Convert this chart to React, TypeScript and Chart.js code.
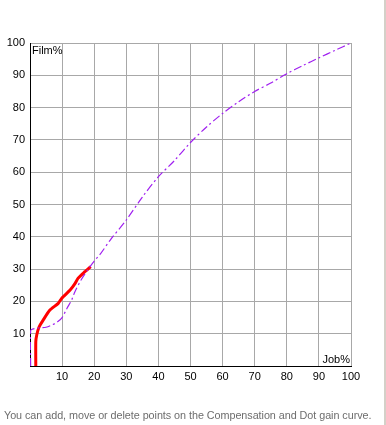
import React, { useEffect, useRef } from "react";
import { Chart, registerables } from "chart.js";

Chart.register(...registerables);

const xTicks = [0, 10, 20, 30, 40, 50, 60, 70, 80, 90, 100];

const compX = [0.2, 0.2, 1, 3, 5, 7, 8.5, 10, 11.5, 13, 14, 16, 18, 20, 22, 25, 30, 35, 40, 45, 50, 55, 60, 65, 70, 75, 80, 85, 90, 95, 100];
const compY = [0, 11, 11.5, 11.8, 12, 12.8, 13.6, 15, 17.8, 20.5, 23, 26.8, 29.8, 32.5, 34.8, 39, 45.2, 52.3, 58.6, 63.6, 69.2, 74, 78.2, 81.8, 85, 87.6, 90.5, 93, 95.4, 97.7, 100];

const gainX = [1.8, 1.8, 2.1, 2.8, 4.1, 6.2, 8.8, 9.9, 12.5, 14, 15, 17.1, 18.9];
const gainY = [0, 7.5, 9.6, 12, 14.2, 17.3, 19.4, 21, 23.5, 25.5, 27.2, 29.2, 30.8];

const yAxisTitle = "Film%";
const xAxisTitle = "Job%";
const footnote = "You can add, move or delete points on the Compensation and Dot gain curve.";

const FONT = "'Liberation Sans', Arial, sans-serif";

const cornerLabels = {
  id: "cornerLabels",
  afterDraw(chart: any) {
    const { ctx, chartArea } = chart;
    ctx.save();
    ctx.font = `11px ${FONT}`;
    ctx.fillStyle = "#000";
    ctx.textBaseline = "top";
    ctx.textAlign = "left";
    ctx.fillText(yAxisTitle, chartArea.left + 2, chartArea.top + 2);
    ctx.textAlign = "right";
    ctx.textBaseline = "bottom";
    ctx.fillText(xAxisTitle, chartArea.right - 1, chartArea.bottom - 1);
    ctx.restore();
  },
};

export default function App() {
  const ref = useRef<HTMLCanvasElement | null>(null);
  useEffect(() => {
    if (!ref.current) return;
    const chart = new Chart(ref.current, {
      type: "line",
      data: {
        datasets: [
          {
            label: "Compensation",
            data: compX.map((x, i) => ({ x, y: compY[i] })),
            borderColor: "#a020f0",
            borderWidth: 1.2,
            borderDash: [8, 3, 2, 3],
            pointRadius: 0,
            tension: 0.3,
            fill: false,
          },
          {
            label: "Dot gain",
            data: gainX.map((x, i) => ({ x, y: gainY[i] })),
            borderColor: "#ff0000",
            borderWidth: 3,
            pointRadius: 0,
            tension: 0.2,
            fill: false,
          },
        ],
      },
      options: {
        animation: false,
        responsive: false,
        maintainAspectRatio: false,
        layout: { padding: { top: 43, right: 35, left: 0, bottom: 0 } },
        plugins: { legend: { display: false }, tooltip: { enabled: false }, title: { display: false } },
        scales: {
          x: {
            type: "linear",
            min: 0,
            max: 100,
            afterBuildTicks: (s: any) => {
              s.ticks = xTicks.map((v) => ({ value: v }));
            },
            afterFit: (s: any) => {
              s.height = 59;
            },
            ticks: {
              autoSkip: false,
              maxRotation: 0,
              padding: 4,
              color: "#000",
              font: { family: FONT, size: 11 },
              callback: (v: any) => (v === 0 ? "" : String(v)),
            },
            grid: { color: "#a8a8a8", drawTicks: false, lineWidth: 1 },
            border: { color: "#000", width: 1 },
          },
          y: {
            type: "linear",
            min: 0,
            max: 100,
            afterBuildTicks: (s: any) => {
              s.ticks = xTicks.map((v) => ({ value: v }));
            },
            afterFit: (s: any) => {
              s.width = 30;
            },
            ticks: {
              autoSkip: false,
              padding: 5,
              color: "#000",
              font: { family: FONT, size: 11 },
              callback: (v: any) => (v === 0 ? "" : String(v)),
            },
            grid: { color: "#a8a8a8", drawTicks: false, lineWidth: 1 },
            border: { color: "#000", width: 1 },
          },
        },
      },
      plugins: [cornerLabels],
    });
    return () => chart.destroy();
  }, []);

  return (
    <div style={{ position: "fixed", left: 0, top: 0, width: 386, height: 425, background: "#fff", overflow: "hidden" }}>
      <canvas ref={ref} width={386} height={425} style={{ position: "absolute", left: 0, top: 0, width: 386, height: 425 }} />
      <div style={{ position: "absolute", left: 384, top: 0, width: 2, height: 425, background: "#d4d0c8" }} />
      <div
        style={{
          position: "absolute",
          left: 4,
          top: 409,
          font: `10.8px ${FONT}`,
          letterSpacing: "-0.05px",
          color: "#6d6d6d",
          whiteSpace: "nowrap",
          lineHeight: "13px",
        }}
      >
        {footnote}
      </div>
    </div>
  );
}
